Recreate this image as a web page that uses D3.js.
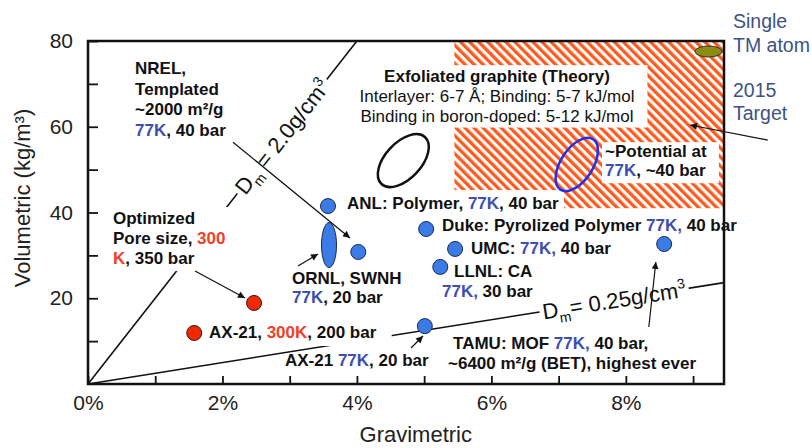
<!DOCTYPE html>
<html>
<head>
  <meta charset="utf-8">
  <title>Hydrogen storage</title>
  <style>
    body { margin: 0; background: #fff; }
    svg text { font-family: Arial, 'Liberation Sans', Helvetica, sans-serif; }
  </style>
</head>
<body>
  <div id="chart"></div>
  <script src="https://d3js.org/d3.v7.min.js"></script>
  <script>
    // data (gravimetric %, volumetric kg/m3)
    let redPoints = [[1.58, 11.9], [2.47, 18.9]];
    let bluePoints = [[3.57, 41.5], [4.02, 30.8], [5.01, 13.5], [5.03, 36.15], [5.46, 31.5], [5.24, 27.3], [8.57, 32.65]];
    let ornlPoint = [3.585, 32.4];
    let theoryPoint = [4.69, 52.1];
    let potentialPoint = [7.27, 51.2];
    let tmPoint = [9.23, 77.55];
    let targetBox = [[5.45, 41], [9.46, 80]];
    let densities = [2.0, 0.25]; // g/cm3
    let densityLabelAt = [2.886, 7.824];
    let xTicks = [0, 1, 2, 3, 4, 5, 6, 7, 8, 9];
    let xLabels = [0, 2, 4, 6, 8];
    let yTicks = [10, 20, 30, 40, 50, 60, 70, 80];
    let yLabels = [20, 40, 60, 80];
    let arrows = [
      [[2.157, 56.4], [3.897, 34.05]],
      [[1.592, 26.36], [2.335, 20.06]],
      [[3.124, 27.52], [3.421, 30.32]],
      [[4.804, 8.40], [4.983, 11.2]],
      [[8.342, 13.29], [8.446, 28.45]],
      [[10.11, 56.9], [8.954, 60.4]]
    ];
    let labels = [
      {x: 0.70, y: 72.3, lh: 20.5, lines: [[['NREL,']], [['Templated']], [['~2000 m²/g']], [['77K', 'blue'], [', 40 bar']]]},
      {x: 0.372, y: 37.3, lh: 20, pad: [3, 2, 4, 3], lines: [[['Optimized']], [['Pore size, '], ['300', 'red']], [['K', 'red'], [', 350 bar']]]},
      {x: 1.80, y: 10.73, pad: [3, 3, 15, 4], lines: [[['AX-21, '], ['300K', 'red'], [', 200 bar']]]},
      {x: 3.034, y: 23.3, lh: 19, lines: [[['ORNL, SWNH']], [['77K', 'blue'], [', 20 bar']]]},
      {x: 3.852, y: 40.8, pad: [7, 4, 5, 4], lines: [[['ANL: Polymer, '], ['77K', 'blue'], [', 40 bar']]]},
      {x: 2.93, y: 4.2, lines: [[['AX-21 '], ['77K', 'blue'], [', 20 bar']]]},
      {x: 5.265, y: 35.7, lines: [[['Duke: Pyrolized Polymer '], ['77K,', 'blue'], [' 40 bar']]]},
      {x: 5.697, y: 30.3, lines: [[['UMC: '], ['77K,', 'blue'], [' 40 bar']]]},
      {x: 5.444, y: 24.96, lines: [[['LLNL: CA']]]},
      {x: 5.265, y: 20.3, lines: [[['77K,', 'blue'], [' 30 bar']]]},
      {x: 5.43, y: 8.16, lines: [[['TAMU: MOF '], ['77K,', 'blue'], [' 40 bar,']]]},
      {x: 5.355, y: 3.5, lines: [[['~6400 m²/g (BET), highest ever']]]},
      {x: 6.083, y: 70.4, lh: 19.7, anchor: 'middle', pad: [12, 2, 13, 2], lines: [
        [['Exfoliated graphite (Theory)']],
        [['Interlayer: 6-7 Å; Binding: 5-7 kJ/mol', null, 'normal']],
        [['Binding in boron-doped: 5-12 kJ/mol', null, 'normal']]]},
      {x: 7.69, y: 52.9, lh: 19, pad: [3, 0, 12, 3], lines: [[['~Potential at']], [['77K', 'blue'], [', ~40 bar']]]},
      {x: 9.594, y: 83.0, lh: 24, size: 19.5, weight: 'normal', color: 'slate', lines: [[['Single']], [['TM atom']]]},
      {x: 9.594, y: 66.9, lh: 23, size: 19.5, weight: 'normal', color: 'slate', lines: [[['2015']], [['Target']]]}
    ];

    let colors = {blue: '#3d4fb0', red: '#f0402a', slate: '#3d5283', ink: '#111'};

    let svgWidth = 812, svgHeight = 448;
    let margin = {top: 41, right: 88, bottom: 64, left: 88};

    function translate(x, y) {
      return 'translate(' + x + ',' + y + ')';
    }

    let svg = d3.select('#chart').append('svg')
      .attr('width', svgWidth)
      .attr('height', svgHeight);

    let x = d3.scaleLinear().domain([0, 9.46]).range([margin.left, svgWidth - margin.right]);
    let y = d3.scaleLinear().domain([0, 80]).range([svgHeight - margin.bottom, margin.top]);

    let defs = svg.append('defs');
    let pat = defs.append('pattern')
      .attr('id', 'hatch')
      .attr('patternUnits', 'userSpaceOnUse')
      .attr('width', 6.4).attr('height', 6.4)
      .attr('patternTransform', 'rotate(-45)');
    pat.append('rect').attr('width', 6.4).attr('height', 6.4).attr('fill', '#fff');
    pat.append('rect').attr('width', 3.3).attr('height', 6.4).attr('fill', '#ff5a1e');

    defs.append('marker')
      .attr('id', 'arrow')
      .attr('viewBox', '0 0 10 10')
      .attr('refX', 10).attr('refY', 5)
      .attr('markerWidth', 9).attr('markerHeight', 7)
      .attr('markerUnits', 'userSpaceOnUse')
      .attr('orient', 'auto')
      .append('path').attr('d', 'M0,0L10,5L0,10z').attr('fill', '#111');

    // 2015 target region
    svg.append('rect')
      .attr('x', x(targetBox[0][0]))
      .attr('y', y(targetBox[1][1]))
      .attr('width', x(targetBox[1][0]) - x(targetBox[0][0]))
      .attr('height', y(targetBox[0][1]) - y(targetBox[1][1]))
      .attr('fill', 'url(#hatch)');

    // constant density lines
    densities.forEach(function (d) {
      let xEnd = Math.min(x.domain()[1], 80 / (d * 10));
      svg.append('line')
        .attr('x1', x(0)).attr('y1', y(0))
        .attr('x2', x(xEnd)).attr('y2', y(d * 10 * xEnd))
        .attr('stroke', '#111').attr('stroke-width', 1.6);
    });

    function drawLabel(l) {
      let g = svg.append('g').attr('transform', translate(x(l.x), y(l.y)));
      let lh = l.lh || 20;
      let t = g.append('text')
        .attr('text-anchor', l.anchor || 'start')
        .style('font-size', (l.size || 17) + 'px')
        .style('font-weight', l.weight || 'bold')
        .attr('fill', colors[l.color || 'ink']);
      l.lines.forEach(function (line, i) {
        line.forEach(function (seg, j) {
          let ts = t.append('tspan').text(seg[0]);
          if (j == 0) ts.attr('x', 0).attr('y', i * lh);
          if (seg[1]) ts.attr('fill', colors[seg[1]]);
          if (seg[2]) ts.style('font-weight', seg[2]);
        });
      });
      if (l.pad) {
        let b = t.node().getBBox();
        g.insert('rect', 'text')
          .attr('x', b.x - l.pad[0]).attr('y', b.y - l.pad[1])
          .attr('width', b.width + l.pad[0] + l.pad[2])
          .attr('height', b.height + l.pad[1] + l.pad[3])
          .attr('fill', '#fff');
      }
    }
    labels.forEach(drawLabel);

    // density line labels
    densities.forEach(function (d, i) {
      let xv = densityLabelAt[i];
      let ang = Math.atan2(y(d * 10) - y(0), x(1) - x(0)) * 180 / Math.PI;
      let g = svg.append('g').attr('transform', translate(x(xv), y(d * 10 * xv)) + ' rotate(' + ang + ')');
      let t = g.append('text').attr('text-anchor', 'middle').attr('y', 8)
        .style('font-size', '22px').attr('fill', '#111');
      t.append('tspan').text('D');
      t.append('tspan').text('m').attr('dy', 6).style('font-size', '14px');
      t.append('tspan').text((i == 0 ? ' = ' : '= ') + d.toFixed(i == 0 ? 1 : 2) + 'g/cm').attr('dy', -6);
      t.append('tspan').text('3').attr('dy', -9).style('font-size', '14px');
      let b = t.node().getBBox();
      g.insert('rect', 'text')
        .attr('x', b.x - 3).attr('y', b.y)
        .attr('width', b.width + 6).attr('height', b.height)
        .attr('fill', '#fff');
    });

    // ellipses
    svg.append('ellipse')
      .attr('transform', translate(x(theoryPoint[0]), y(theoryPoint[1])) + ' rotate(43)')
      .attr('rx', 18).attr('ry', 32)
      .attr('fill', 'none').attr('stroke', '#111').attr('stroke-width', 2.5);
    svg.append('ellipse')
      .attr('transform', translate(x(potentialPoint[0]), y(potentialPoint[1])) + ' rotate(33)')
      .attr('rx', 16).attr('ry', 30)
      .attr('fill', 'none').attr('stroke', '#1f30f0').attr('stroke-width', 2.5);
    svg.append('ellipse')
      .attr('cx', x(tmPoint[0])).attr('cy', y(tmPoint[1]))
      .attr('rx', 13.5).attr('ry', 5.5)
      .attr('fill', '#8c8c14').attr('stroke', '#333').attr('stroke-width', 1);
    svg.append('ellipse')
      .attr('cx', x(ornlPoint[0])).attr('cy', y(ornlPoint[1]))
      .attr('rx', 7.5).attr('ry', 22.5)
      .attr('fill', '#3b7be6').attr('stroke', '#1a2a50').attr('stroke-width', 1);

    svg.selectAll('.blue').data(bluePoints).enter()
      .append('circle').attr('class', 'blue')
      .attr('cx', d => x(d[0])).attr('cy', d => y(d[1])).attr('r', 7.5)
      .attr('fill', '#3b7be6').attr('stroke', '#1a2a50').attr('stroke-width', 1);

    svg.selectAll('.red').data(redPoints).enter()
      .append('circle').attr('class', 'red')
      .attr('cx', d => x(d[0])).attr('cy', d => y(d[1])).attr('r', 7.5)
      .attr('fill', '#ee2a05').attr('stroke', '#401010').attr('stroke-width', 1);

    svg.selectAll('.arrow').data(arrows).enter()
      .append('line').attr('class', 'arrow')
      .attr('x1', d => x(d[0][0])).attr('y1', d => y(d[0][1]))
      .attr('x2', d => x(d[1][0])).attr('y2', d => y(d[1][1]))
      .attr('stroke', '#111').attr('stroke-width', 1.2)
      .attr('marker-end', 'url(#arrow)');

    // axes
    let xAxis = svg.append('g').attr('transform', translate(0, y(0)))
      .call(d3.axisBottom(x).tickValues(xTicks).tickSizeInner(-8).tickSizeOuter(0)
        .tickFormat(d => xLabels.includes(d) ? d + '%' : ''));
    let yAxis = svg.append('g').attr('transform', translate(x(0), 0))
      .call(d3.axisLeft(y).tickValues(yTicks).tickSizeInner(-10).tickSizeOuter(0).tickPadding(15)
        .tickFormat(d => yLabels.includes(d) ? d : ''));
    [xAxis, yAxis].forEach(function (a) {
      a.select('.domain').remove();
      a.selectAll('line').attr('stroke', '#111').attr('stroke-width', 1.8);
      a.selectAll('text').style('font-size', '21px').attr('fill', '#222');
    });
    xAxis.selectAll('text').attr('dy', null).attr('y', 26);

    svg.append('rect')
      .attr('x', x(0)).attr('y', y(80))
      .attr('width', x(9.46) - x(0)).attr('height', y(0) - y(80))
      .attr('fill', 'none').attr('stroke', '#111').attr('stroke-width', 2.5);

    svg.append('text')
      .attr('transform', translate(30, 198) + ' rotate(-90)')
      .attr('text-anchor', 'middle')
      .style('font-size', '22px').attr('fill', '#222')
      .text('Volumetric (kg/m³)');

    svg.append('text')
      .attr('x', 472).attr('y', 442)
      .attr('text-anchor', 'end')
      .style('font-size', '22px').attr('fill', '#222')
      .text('Gravimetric');
  </script>
</body>
</html>
